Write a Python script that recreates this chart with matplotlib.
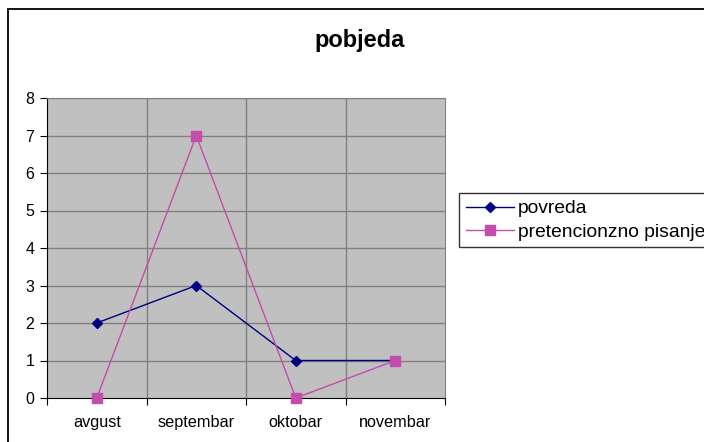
import matplotlib
matplotlib.use("Agg")
import matplotlib.pyplot as plt
from matplotlib.patches import Rectangle

plt.rcParams['font.family'] = ['Liberation Sans', 'DejaVu Sans']

# data
months = ["avgust", "septembar", "oktobar", "novembar"]
povreda = [2, 3, 1, 1]
pretencionzno = [0, 7, 0, 1]
title = "pobjeda"

fig = plt.figure(figsize=(7.04, 4.42), dpi=100)
# outer chart border (cut off at right/bottom like the screenshot)
fig.patches.append(Rectangle((8 / 704, -0.1), 1.2, 1 - 9 / 442 + 0.1,
                             transform=fig.transFigure, fill=False,
                             edgecolor='black', linewidth=1.3))

ax = fig.add_axes([47 / 704, 1 - 398 / 442, (445 - 47) / 704, (398 - 98) / 442])
ax.set_facecolor('#C0C0C0')
x = list(range(len(months)))

ax.plot(x, povreda, color='#000080', marker='D', markersize=5.5,
        linewidth=1, label='povreda', zorder=3)
ax.plot(x, pretencionzno, color='#C44CAA', marker='s', markersize=7,
        linewidth=1, label='pretencionzno pisanje', zorder=3, clip_on=False)

ax.set_xlim(-0.5, len(months) - 0.5)
ax.set_ylim(0, 8)
ax.set_yticks(range(0, 9))
ax.set_xticks([i + 0.5 for i in range(-1, len(months))])
ax.set_xticklabels([])
ax.set_xticks(x, minor=True)
ax.set_xticklabels(months, minor=True)
ax.tick_params(axis='x', which='minor', length=0, pad=12, labelsize=11.7)
ax.tick_params(axis='x', which='major', length=5, direction='out', color='black')
ax.tick_params(axis='y', length=5, direction='out', labelsize=11.5, pad=4)

for yv in range(1, 9):
    ax.axhline(yv, color='#808080', linewidth=1, zorder=1)
for xv in [0.5, 1.5, 2.5]:
    ax.axvline(xv, color='#808080', linewidth=1, zorder=1)

ax.spines['left'].set_color('black')
ax.spines['bottom'].set_color('black')
ax.spines['top'].set_color('#808080')
ax.spines['right'].set_color('#808080')

fig.text(360 / 704, 1 - 40 / 442, title, ha='center', va='center',
         fontsize=17, fontweight='bold')

leg = fig.legend(loc='upper left', bbox_to_anchor=(459 / 704, 1 - 193 / 442),
                 fontsize=13.9, frameon=True, fancybox=False, borderpad=0.35,
                 handlelength=2.5, handletextpad=0.2, labelspacing=0.3,
                 borderaxespad=0)
leg.get_frame().set_edgecolor('black')
leg.get_frame().set_linewidth(1)

fig.savefig("out.png", dpi=100)
